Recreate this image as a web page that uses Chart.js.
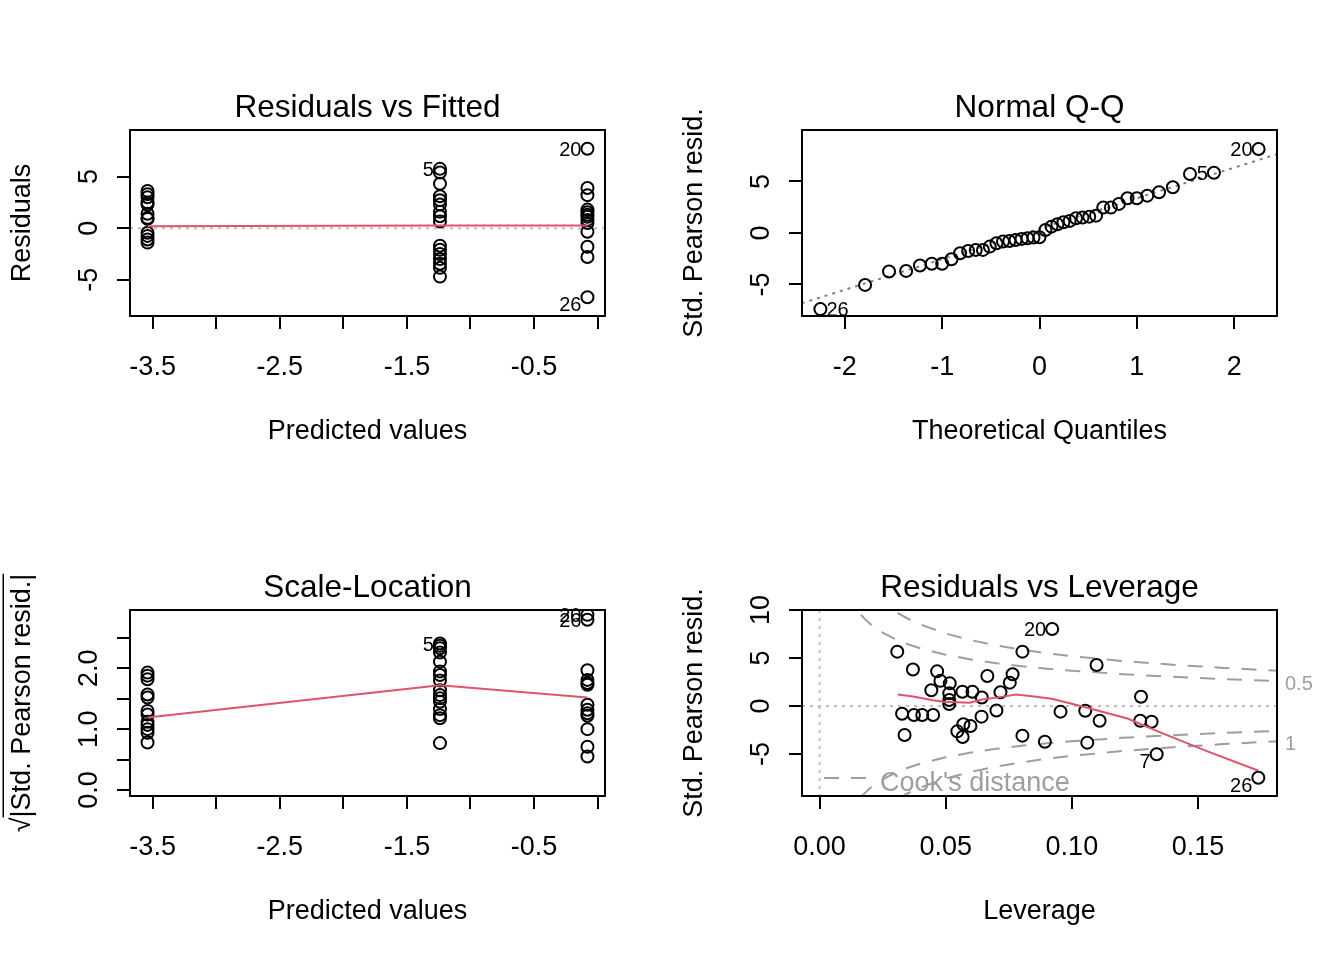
<!DOCTYPE html>
<html>
<head>
<meta charset="utf-8">
<script src="https://cdn.jsdelivr.net/npm/chart.js@4.4.1/dist/chart.umd.min.js"></script>
<style>
  html, body { margin: 0; padding: 0; background: #fff; }
  #wrap { position: relative; width: 1344px; height: 960px; background: #fff; }
  #wrap canvas { position: absolute; }
</style>
</head>
<body>
<div id="wrap">
  <canvas id="rvf" width="672" height="480" style="left:0;top:0"></canvas>
  <canvas id="qq" width="672" height="480" style="left:672px;top:0"></canvas>
  <canvas id="sl" width="672" height="480" style="left:0;top:480px"></canvas>
  <canvas id="rvl" width="672" height="480" style="left:672px;top:480px"></canvas>
</div>
<script>
// --- data (plot.lm diagnostics, n = 41) ---

// Residuals vs Fitted: three fitted levels, residuals per level
const fittedLevels = [-3.54, -1.24, -0.08];
const residLow  = [3.6, 3.3, 3.0, 2.5, 2.3, 1.4, 1.0, 0.9, -0.45, -0.75, -1.1, -1.4];
const residMid  = [5.75, 5.4, 4.3, 3.1, 2.7, 2.3, 1.6, 1.15, 0.65, -1.7, -2.1, -2.5, -3.0, -3.45, -3.85, -4.7];
const residHigh = [7.7, 3.9, 3.2, 1.8, 1.55, 1.3, 1.1, 0.8, 0.5, -0.35, -1.8, -2.8, -6.7];
const residSmooth = [0.18, 0.26, 0.26];
const rvfIdIndex = [28, 12, 40];
const rvfIdText = ['20', '5', '26'];

// Normal Q-Q
const theoQuant = [-2.251, -1.792, -1.546, -1.370, -1.228, -1.107, -1.000, -0.904, -0.816, -0.733,
  -0.655, -0.581, -0.511, -0.442, -0.375, -0.310, -0.246, -0.184, -0.123, -0.061, 0,
  0.061, 0.123, 0.184, 0.246, 0.310, 0.375, 0.442, 0.511, 0.581, 0.655,
  0.733, 0.816, 0.904, 1.000, 1.107, 1.228, 1.370, 1.546, 1.792, 2.251];
const stdResSorted = [-7.4, -5.05, -3.75, -3.69, -3.17, -3.0, -3.0, -2.56, -1.97, -1.75,
  -1.65, -1.65, -1.33, -1.0, -0.84, -0.78, -0.68, -0.58, -0.52, -0.45, -0.42,
  0.29, 0.61, 0.84, 1.04, 1.17, 1.43, 1.49, 1.58, 1.68, 2.46,
  2.46, 2.82, 3.37, 3.37, 3.62, 3.95, 4.44, 5.73, 5.85, 8.16];
const qqRefX = [-2.6, 2.6];
const qqRefY = [-7.30, 8.12];
const qqIdIndex = [0, 39, 40];
const qqIdText = ['26', '5', '20'];
const qqIdSide = ['right', 'left', 'left'];

// Scale-Location
const sqrtLow  = [1.93, 1.88, 1.82, 1.57, 1.52, 1.30, 1.24, 1.12, 1.07, 1.00, 0.94, 0.78];
const sqrtMid  = [2.41, 2.37, 2.33, 2.26, 2.11, 1.95, 1.89, 1.80, 1.64, 1.56, 1.51, 1.45, 1.33, 1.23, 1.18, 0.77];
const sqrtHigh = [2.88, 2.80, 1.97, 1.81, 1.76, 1.73, 1.40, 1.32, 1.26, 1.22, 1.00, 0.71, 0.55];
const sqrtSmooth = [1.19, 1.72, 1.52];
const slIdIndex = [12, 28, 29];
const slIdText = ['5', '20', '26'];

// Residuals vs Leverage
const leverage = [0.0308, 0.0370, 0.0466, 0.0479, 0.0516, 0.0443, 0.0514, 0.0514, 0.0514, 0.0566,
  0.0606, 0.0643, 0.0665, 0.0717, 0.0754, 0.0765, 0.0804, 0.0922, 0.1098, 0.1274,
  0.0327, 0.0374, 0.0407, 0.0450, 0.0337, 0.0546, 0.0570, 0.0598, 0.0567, 0.0642,
  0.0701, 0.0804, 0.0893, 0.0955, 0.1053, 0.1061, 0.1110, 0.1271, 0.1316, 0.1336, 0.1739];
const stdResLev = [5.66, 3.80, 3.61, 2.62, 2.36, 1.64, 1.32, 0.62, 0.21, 1.49,
  1.49, 0.89, 3.12, 1.43, 2.43, 3.30, 5.66, 8.02, 4.27, 0.97,
  -0.80, -0.94, -0.94, -0.94, -3.02, -2.64, -1.90, -2.08, -3.23, -1.11,
  -0.47, -3.09, -3.72, -0.59, -0.49, -3.82, -1.53, -1.53, -1.64, -5.03, -7.47];
const levSmoothX = [0.031, 0.037, 0.045, 0.049, 0.0595, 0.064, 0.072, 0.078, 0.085, 0.092, 0.105, 0.122, 0.136, 0.154, 0.174];
const levSmoothY = [1.2, 1.0, 0.6, 0.45, 0.34, 0.65, 0.95, 1.2, 1.0, 0.75, -0.1, -1.3, -2.85, -4.75, -6.75];
const levIdIndex = [17, 39, 40];
const levIdText = ['20', '7', '26'];
// Cook's distance contours (p = 3) for levels 0.5 and 1
const cookH    = [0.005, 0.01, 0.0125, 0.015, 0.0175, 0.02, 0.025, 0.03, 0.035, 0.04, 0.05,
  0.06, 0.07, 0.08, 0.09, 0.10, 0.12, 0.14, 0.16, 0.18, 0.1813];
const cookHalf = [17.28, 12.19, 10.89, 9.92, 9.18, 8.57, 7.65, 6.96, 6.43, 6.00, 5.34,
  4.85, 4.46, 4.15, 3.89, 3.67, 3.32, 3.04, 2.81, 2.61, 2.60];
const cookOne  = [24.44, 17.24, 15.40, 14.03, 12.98, 12.12, 10.82, 9.84, 9.09, 8.49, 7.55,
  6.86, 6.31, 5.87, 5.50, 5.19, 4.69, 4.30, 3.97, 3.69, 3.68];
const cookLevelText = ['0.5', '1'];
const cookLevelAt = [2.60, -3.68];

// ticks
const fittedTicks = [-3.5, -3, -2.5, -2, -1.5, -1, -0.5, 0];
const fittedTickLabels = ['-3.5', '', '-2.5', '', '-1.5', '', '-0.5', ''];
const residTicks = [-5, 0, 5];
const residTickLabels = ['-5', '0', '5'];
const quantTicks = [-2, -1, 0, 1, 2];
const quantTickLabels = ['-2', '-1', '0', '1', '2'];
const sqrtTicks = [0, 0.5, 1, 1.5, 2, 2.5];
const sqrtTickLabels = ['0.0', '', '1.0', '', '2.0', ''];
const levTicks = [0, 0.05, 0.10, 0.15];
const levTickLabels = ['0.00', '0.05', '0.10', '0.15'];
const levStdTicks = [-5, 0, 5, 10];
const levStdTickLabels = ['-5', '0', '5', '10'];

// --- styling ---
const FONT = '"Liberation Sans", Arial, sans-serif';
const BASE = 27, TITLE = 31.5, IDSZ = 20;
const RED = '#DF536B', GREY = '#BEBEBE', GREY50 = '#7F7F7F', GREY62 = '#9E9E9E';

function scaleFor(axis, min, max, ticks) {
  return {
    type: 'linear', min: min, max: max,
    afterBuildTicks: s => { s.ticks = ticks.map(v => ({ value: v })); },
    afterFit: s => { if (axis === 'x') s.height = 40; else s.width = 40; },
    ticks: { display: false },
    grid: { drawOnChartArea: false, drawTicks: true, tickLength: 13, color: '#000', lineWidth: 2 },
    border: { display: false }
  };
}

function pts(xs, ys) {
  return {
    data: xs.map((x, i) => ({ x: x, y: ys[i] })),
    showLine: false,
    pointStyle: 'circle', pointRadius: 6, pointBorderWidth: 2,
    pointBorderColor: '#000', pointBackgroundColor: 'rgba(0,0,0,0)',
    order: 2
  };
}

function line(xs, ys, color, dash, order) {
  return {
    data: xs.map((x, i) => ({ x: x, y: ys[i] })),
    showLine: true, pointRadius: 0, borderColor: color, borderWidth: 2,
    borderDash: dash || [], tension: 0, order: order === undefined ? 1 : order
  };
}

// x per point for the grouped panels
function levelX(groups) {
  const out = [];
  groups.forEach((g, k) => g.forEach(() => out.push(fittedLevels[k])));
  return out;
}

function rotText(ctx, text, cx, cy, size) {
  ctx.save();
  ctx.translate(cx, cy);
  ctx.rotate(-Math.PI / 2);
  ctx.textAlign = 'center';
  ctx.textBaseline = 'alphabetic';
  ctx.fillText(text, 0, size * 0.358);
  ctx.restore();
}

function decor(cfg) {
  return {
    id: 'rDecor',
    beforeDatasetsDraw(chart) {
      const { ctx, chartArea: a, scales: { x, y } } = chart;
      ctx.save();
      ctx.beginPath();
      ctx.rect(a.left, a.top, a.right - a.left, a.bottom - a.top);
      ctx.clip();
      ctx.strokeStyle = GREY; ctx.lineWidth = 2; ctx.setLineDash([3, 5]);
      (cfg.hLines || []).forEach(v => {
        const py = y.getPixelForValue(v);
        ctx.beginPath(); ctx.moveTo(a.left, py); ctx.lineTo(a.right, py); ctx.stroke();
      });
      (cfg.vLines || []).forEach(v => {
        const px = x.getPixelForValue(v);
        ctx.beginPath(); ctx.moveTo(px, a.top); ctx.lineTo(px, a.bottom); ctx.stroke();
      });
      ctx.restore();
    },
    afterDraw(chart) {
      const { ctx, chartArea: a, scales: { x, y } } = chart;
      const cx = (a.left + a.right) / 2, cy = (a.top + a.bottom) / 2;
      ctx.save();
      ctx.strokeStyle = '#000'; ctx.lineWidth = 2; ctx.setLineDash([]);
      ctx.strokeRect(a.left, a.top, a.right - a.left, a.bottom - a.top);
      ctx.fillStyle = '#000';
      ctx.textBaseline = 'alphabetic';
      ctx.textAlign = 'center';
      ctx.font = TITLE + 'px ' + FONT;
      ctx.fillText(cfg.title, cx, a.top - 13.5);
      ctx.font = BASE + 'px ' + FONT;
      cfg.xTicks.forEach((v, i) => {
        if (cfg.xLabels[i]) ctx.fillText(cfg.xLabels[i], x.getPixelForValue(v), a.bottom + 58.5);
      });
      ctx.fillText(cfg.xTitle, cx, a.bottom + 122.5);
      cfg.yTicks.forEach((v, i) => {
        if (cfg.yLabels[i]) rotText(ctx, cfg.yLabels[i], a.left - 43, y.getPixelForValue(v), BASE);
      });
      rotText(ctx, cfg.yTitle, a.left - 110, cy, BASE);
      if (cfg.sqrtBar) {
        // overbar of the radical in the y title
        const full = ctx.measureText(cfg.yTitle).width;
        const rad = ctx.measureText('\u221A').width;
        const x0 = a.left - 110 - BASE * 0.62;
        ctx.lineWidth = 1.5;
        ctx.beginPath();
        ctx.moveTo(x0, cy + full / 2 - rad);
        ctx.lineTo(x0, cy - full / 2);
        ctx.stroke();
      }
      // point ids
      const meta = chart.getDatasetMeta(0);
      ctx.font = IDSZ + 'px ' + FONT;
      cfg.idIndex.forEach((idx, k) => {
        const el = meta.data[idx];
        const v = chart.data.datasets[0].data[idx].y;
        const side = cfg.idSide ? cfg.idSide[k] : 'left';
        const dy = (cfg.shiftNeg && v < 0) ? 7 : 0;
        ctx.textAlign = side === 'left' ? 'right' : 'left';
        const px = side === 'left' ? el.x - 6 : el.x + 6;
        ctx.fillText(cfg.idText[k], px, el.y + dy + IDSZ * 0.358);
      });
      if (cfg.extra) cfg.extra(ctx, a, x, y);
      ctx.restore();
    }
  };
}

function makeChart(id, datasets, xs, ys, cfg) {
  return new Chart(document.getElementById(id), {
    type: 'scatter',
    data: { datasets: datasets },
    options: {
      responsive: false,
      animation: false,
      events: [],
      layout: { padding: { left: 90, right: 67, top: 130, bottom: 124 } },
      scales: { x: xs, y: ys },
      plugins: { legend: { display: false }, tooltip: { enabled: false } }
    },
    plugins: [decor(cfg)]
  });
}

// --- 1. Residuals vs Fitted ---
const rvfX = levelX([residLow, residMid, residHigh]);
makeChart('rvf',
  [pts(rvfX, residLow.concat(residMid, residHigh)), line(fittedLevels, residSmooth, RED)],
  scaleFor('x', -3.678, 0.058, fittedTicks), scaleFor('y', -8.52, 9.52, residTicks),
  { title: 'Residuals vs Fitted', xTitle: 'Predicted values', yTitle: 'Residuals',
    xTicks: fittedTicks, xLabels: fittedTickLabels, yTicks: residTicks, yLabels: residTickLabels,
    hLines: [0], idIndex: rvfIdIndex, idText: rvfIdText, shiftNeg: true });

// --- 2. Normal Q-Q ---
makeChart('qq',
  [pts(theoQuant, stdResSorted), line(qqRefX, qqRefY, GREY50, [3, 5], 3)],
  scaleFor('x', -2.44, 2.44, quantTicks), scaleFor('y', -8.07, 10.0, residTicks),
  { title: 'Normal Q-Q', xTitle: 'Theoretical Quantiles', yTitle: 'Std. Pearson resid.',
    xTicks: quantTicks, xLabels: quantTickLabels, yTicks: residTicks, yLabels: residTickLabels,
    idIndex: qqIdIndex, idText: qqIdText, idSide: qqIdSide });

// --- 3. Scale-Location ---
makeChart('sl',
  [pts(levelX([sqrtLow, sqrtMid, sqrtHigh]), sqrtLow.concat(sqrtMid, sqrtHigh)), line(fittedLevels, sqrtSmooth, RED)],
  scaleFor('x', -3.678, 0.058, fittedTicks), scaleFor('y', -0.1, 2.96, sqrtTicks),
  { title: 'Scale-Location', xTitle: 'Predicted values', yTitle: '\u221A|Std. Pearson resid.|',
    xTicks: fittedTicks, xLabels: fittedTickLabels, yTicks: sqrtTicks, yLabels: sqrtTickLabels,
    idIndex: slIdIndex, idText: slIdText, sqrtBar: true });

// --- 4. Residuals vs Leverage ---
makeChart('rvl',
  [pts(leverage, stdResLev),
   line(levSmoothX, levSmoothY, RED),
   line(cookH, cookHalf, GREY62, [15, 12], 3),
   line(cookH, cookHalf.map(v => -v), GREY62, [15, 12], 3),
   line(cookH, cookOne, GREY62, [15, 12], 3),
   line(cookH, cookOne.map(v => -v), GREY62, [15, 12], 3)],
  scaleFor('x', -0.00696, 0.1813, levTicks), scaleFor('y', -9.375, 10.0, levStdTicks),
  { title: 'Residuals vs Leverage', xTitle: 'Leverage', yTitle: 'Std. Pearson resid.',
    xTicks: levTicks, xLabels: levTickLabels, yTicks: levStdTicks, yLabels: levStdTickLabels,
    hLines: [0], vLines: [0], idIndex: levIdIndex, idText: levIdText, shiftNeg: true,
    extra: (ctx, a, x, y) => {
      // Cook's distance legend, bottom left
      ctx.strokeStyle = GREY62; ctx.lineWidth = 2; ctx.setLineDash([15, 12]);
      ctx.beginPath(); ctx.moveTo(a.left + 22, a.bottom - 18); ctx.lineTo(a.left + 70, a.bottom - 18); ctx.stroke();
      ctx.setLineDash([]);
      ctx.fillStyle = GREY62;
      ctx.font = BASE + 'px ' + FONT;
      ctx.textAlign = 'left';
      ctx.fillText("Cook's distance", a.left + 78, a.bottom - 15 + BASE * 0.358);
      // contour level labels in the right margin
      ctx.font = IDSZ + 'px ' + FONT;
      cookLevelText.forEach((t, i) => {
        ctx.fillText(t, a.right + 8, y.getPixelForValue(cookLevelAt[i]) + 2 + IDSZ * 0.358);
      });
    } });
</script>
</body>
</html>
